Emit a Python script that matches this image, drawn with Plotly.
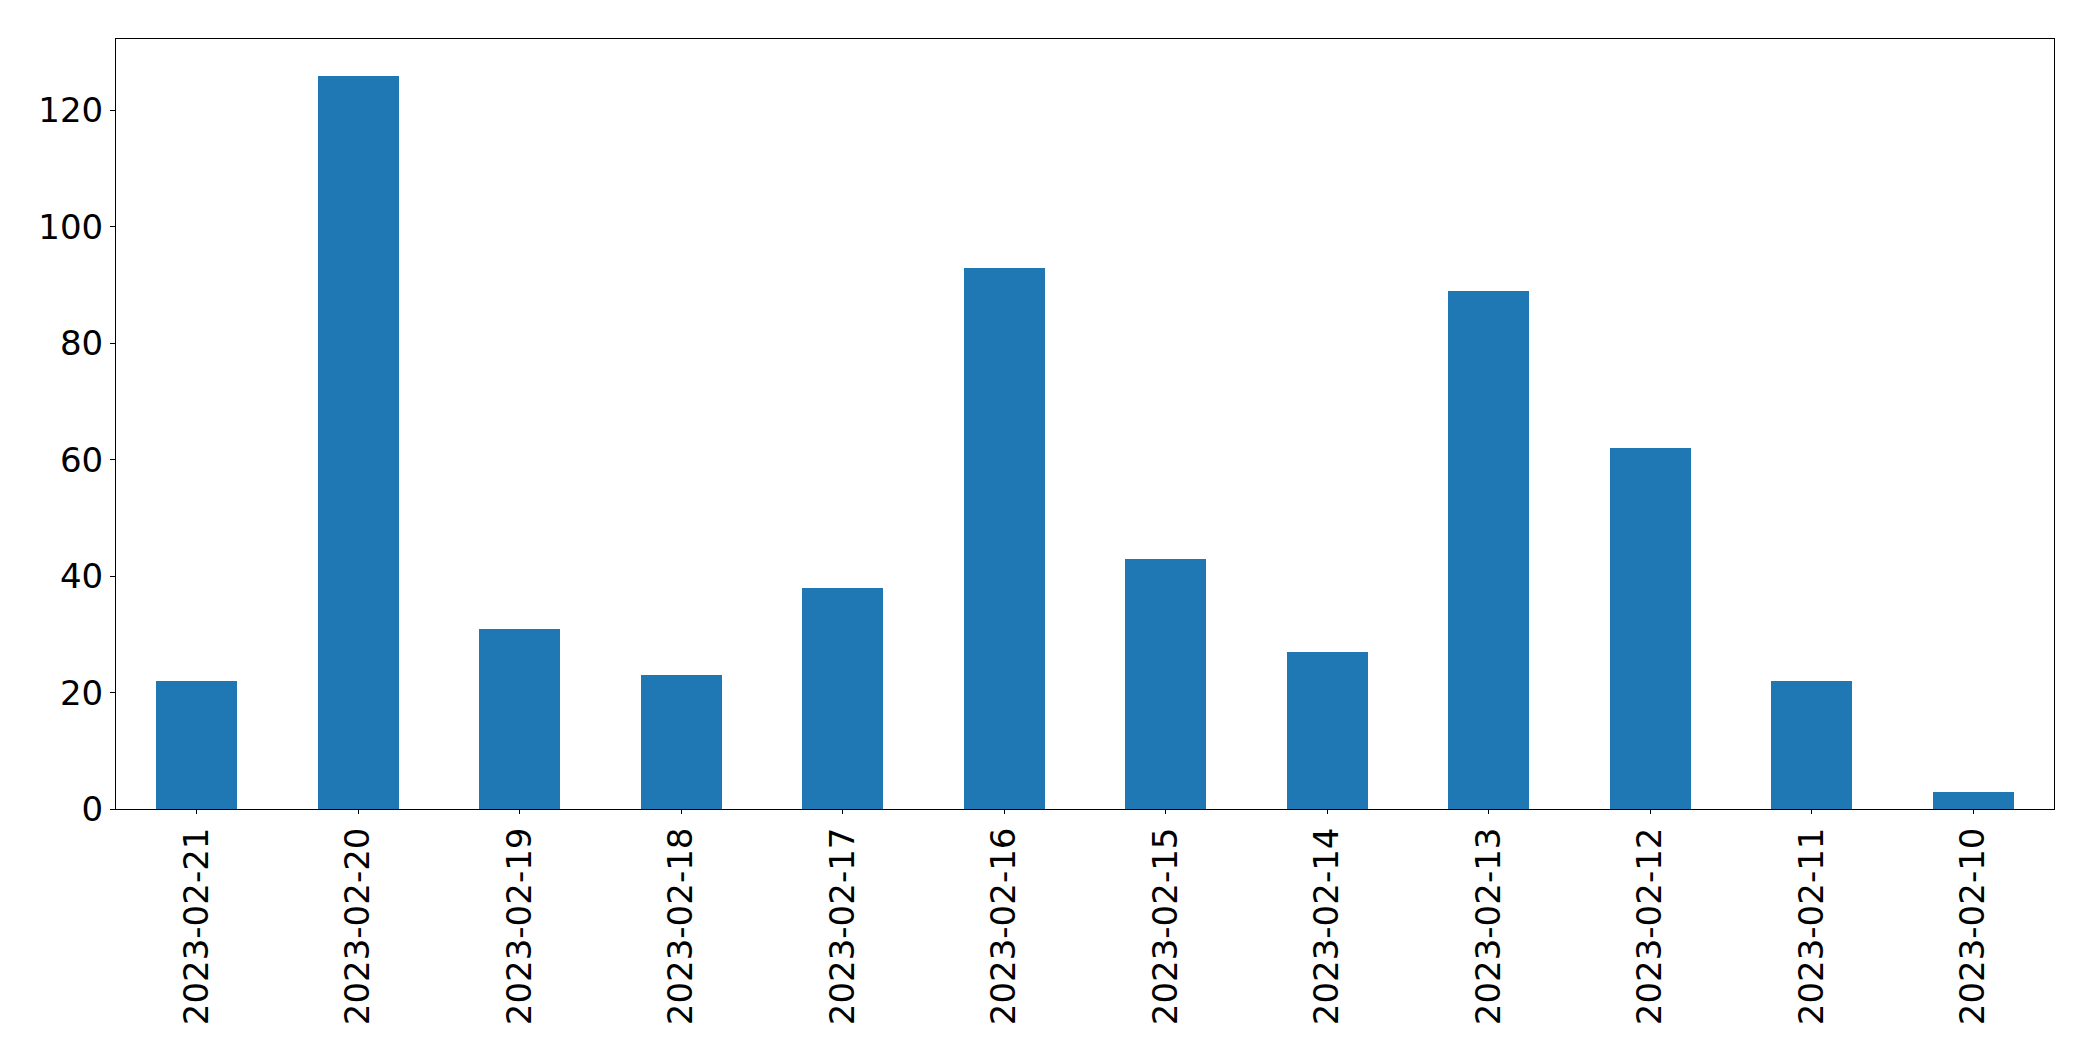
import plotly.graph_objects as go

dates = ["2023-02-21", "2023-02-20", "2023-02-19", "2023-02-18", "2023-02-17", "2023-02-16",
         "2023-02-15", "2023-02-14", "2023-02-13", "2023-02-12", "2023-02-11", "2023-02-10"]
counts = [22, 126, 31, 23, 38, 93, 43, 27, 89, 62, 22, 3]
y_ticks = [0, 20, 40, 60, 80, 100, 120]

fig = go.Figure(go.Bar(x=list(range(len(dates))), y=counts, width=0.5,
                       marker=dict(color="#1f77b4", line=dict(width=0))))

font = dict(family="DejaVu Sans", size=34, color="black")
fig.update_layout(
    width=2077, height=1045,
    margin=dict(l=108, r=31, t=31, b=244),
    paper_bgcolor="white", plot_bgcolor="white",
    showlegend=False,
    font=font,
    bargap=0,
)
fig.update_xaxes(
    range=[-0.5, len(dates) - 0.5],
    tickmode="array", tickvals=list(range(len(dates))), ticktext=dates,
    tickangle=-90, ticks="outside", ticklen=4, tickwidth=1, tickcolor="black",
    showline=True, linecolor="black", linewidth=1, mirror=True,
    showgrid=False, zeroline=False, tickfont=font,
)
fig.update_yaxes(
    range=[0, max(counts) * 1.05],
    tickmode="array", tickvals=y_ticks, ticktext=[str(v) for v in y_ticks],
    ticks="outside", ticklen=5, tickwidth=1, tickcolor="black",
    showline=True, linecolor="black", linewidth=1, mirror=True,
    showgrid=False, zeroline=False, tickfont=font,
)
fig.write_html("out.html")
